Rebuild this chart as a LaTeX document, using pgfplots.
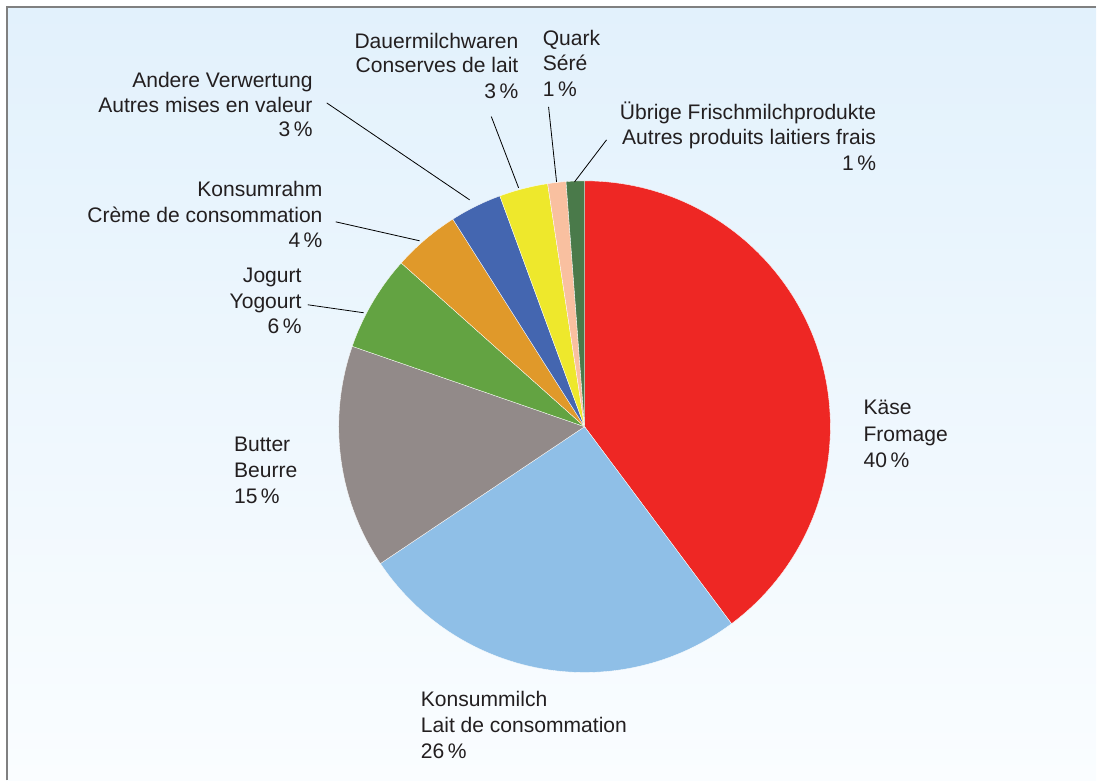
\documentclass[border=0pt]{standalone}
\usepackage{pgfplots}
\pgfplotsset{compat=1.18}
\usepackage{pgfplotstable}
\usepackage{fontspec}
\setmainfont{Liberation Sans}
\definecolor{c0}{HTML}{EE2724}
\definecolor{c1}{HTML}{8FBFE7}
\definecolor{c2}{HTML}{928A89}
\definecolor{c3}{HTML}{63A342}
\definecolor{c4}{HTML}{E0992A}
\definecolor{c5}{HTML}{4466B0}
\definecolor{c6}{HTML}{EEE82C}
\definecolor{c7}{HTML}{F9C0A0}
\definecolor{c8}{HTML}{4A7A4A}
\definecolor{bgtop}{HTML}{E2F1FC}
\definecolor{bgbot}{HTML}{FAFDFF}
\definecolor{txt}{HTML}{231F20}
\newcommand\lf{\fontsize{15.8}{18}\selectfont}
\pgfplotstableread{
value
39.8
25.8
14.7
6.3
4.4
3.4
3.2
1.2
1.2
}\piedata
\begin{document}
\begin{tikzpicture}
\begin{axis}[x=0.75pt, y=0.75pt, xmin=0, xmax=1097, ymin=0, ymax=781,
  y dir=reverse, hide axis, clip=false]
\fill[white] (0,0) rectangle (1097,781);
\shade[top color=bgtop, bottom color=bgbot] (7,7) rectangle (1097,781);
\draw[gray, line width=1.3pt] (7,781) -- (7,7) -- (1097,7);
\pgfmathsetmacro\cum{0}
\pgfplotsforeachungrouped \i in {0,...,8}{%
  \pgfplotstablegetelem{\i}{value}\of\piedata
  \pgfmathsetmacro\sa{90-3.6*\cum}%
  \pgfmathsetmacro\cum{\cum+\pgfplotsretval}%
  \pgfmathsetmacro\ea{90-3.6*\cum}%
  \edef\temp{\noexpand\fill[c\i, draw=white, line width=0.25pt] (585,427) -- ++(\sa:184.5pt) arc[start angle=\sa, end angle=\ea, radius=184.5pt] -- cycle;}%
  \temp
}
% leader lines
\draw[black, line width=0.6pt] (327,103) -- (470,200);
\draw[black, line width=0.6pt] (491.7,116.7) -- (519,188);
\draw[black, line width=0.6pt] (549,107) -- (557,182);
\draw[black, line width=0.6pt] (607,140) -- (575,182);
\draw[black, line width=0.6pt] (336,222) -- (420,241);
\draw[black, line width=0.6pt] (308,305) -- (364,313);
% labels
\begin{scope}[every node/.style={inner sep=0pt, font=\lf, text=txt}]
\node[anchor=base west] at (864,415) {Käse};
\node[anchor=base west] at (864,441.5) {Fromage};
\node[anchor=base west] at (864,468) {40\,\%};
\node[anchor=base west] at (421,707.3) {Konsummilch};
\node[anchor=base west] at (421,733.3) {Lait de consommation};
\node[anchor=base west] at (421,759.3) {26\,\%};
\node[anchor=base west] at (234,452) {Butter};
\node[anchor=base west] at (234,478) {Beurre};
\node[anchor=base west] at (234,504) {15\,\%};
\node[anchor=base east] at (302,283) {Jogurt};
\node[anchor=base east] at (302,309) {Yogourt};
\node[anchor=base east] at (302,334) {6\,\%};
\node[anchor=base east] at (323,197) {Konsumrahm};
\node[anchor=base east] at (323,222.6) {Crème de consommation};
\node[anchor=base east] at (323,248) {4\,\%};
\node[anchor=base east] at (313,88) {Andere Verwertung};
\node[anchor=base east] at (313,112.7) {Autres mises en valeur};
\node[anchor=base east] at (313,137) {3\,\%};
\node[anchor=base east] at (519,48.3) {Dauermilchwaren};
\node[anchor=base east] at (519,72.7) {Conserves de lait};
\node[anchor=base east] at (519,99) {3\,\%};
\node[anchor=base west] at (543,45.7) {Quark};
\node[anchor=base west] at (543,70.7) {Séré};
\node[anchor=base west] at (543,96.7) {1\,\%};
\node[anchor=base east] at (877,119.3) {Übrige Frischmilchprodukte};
\node[anchor=base east] at (877,145) {Autres produits laitiers frais};
\node[anchor=base east] at (877,171) {1\,\%};
\end{scope}
\end{axis}
\end{tikzpicture}
\end{document}
